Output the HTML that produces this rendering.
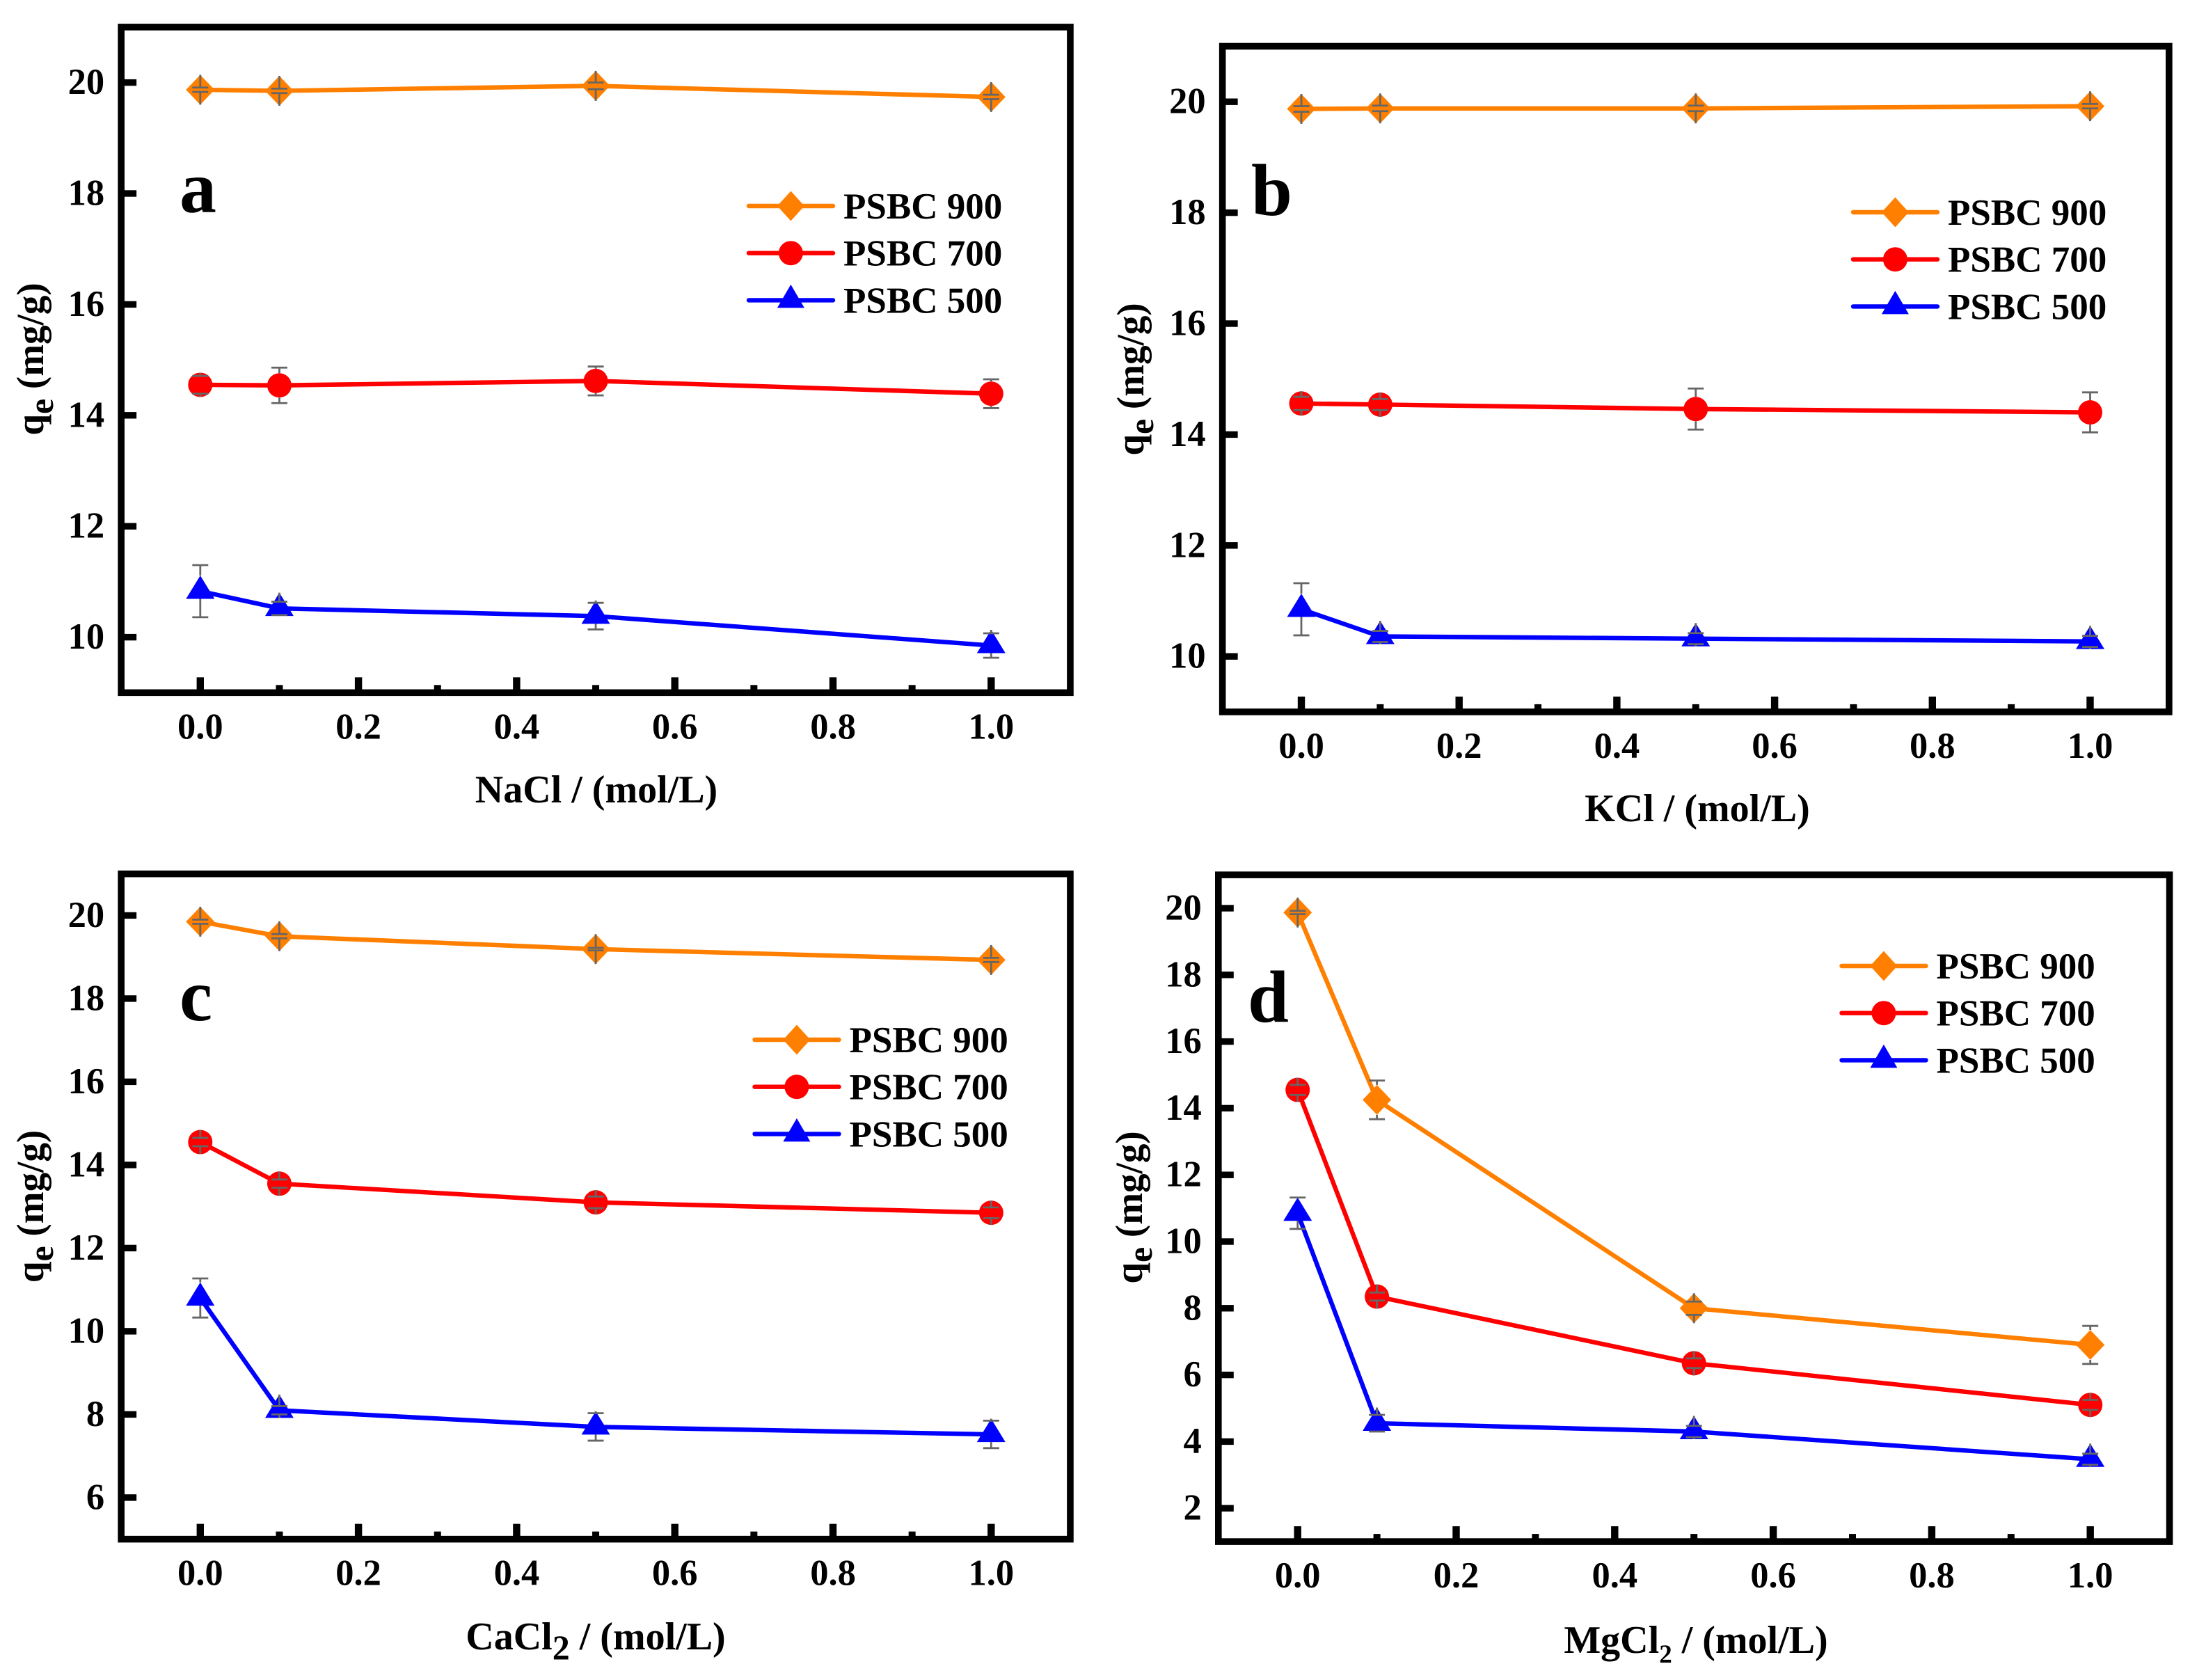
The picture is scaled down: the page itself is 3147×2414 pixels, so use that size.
<!DOCTYPE html>
<html lang="en">
<head>
<meta charset="utf-8">
<title>Adsorption capacity vs. salt concentration</title>
<style>
html,body{margin:0;padding:0;background:#fff;width:3147px;height:2414px;overflow:hidden}
svg{display:block}
text{font-family:"Liberation Serif","Times New Roman",serif;font-weight:700;fill:#000}
</style>
</head>
<body>
<svg id="figure" xmlns="http://www.w3.org/2000/svg" width="3147" height="2414" viewBox="0 0 3147 2414"></svg>
<script>
// ---- Shared data ----
const concentrations = [0, 0.1, 0.5, 1.0];
const xMajorTicks = [0, 0.2, 0.4, 0.6, 0.8, 1.0];
const xMajorLabels = ['0.0', '0.2', '0.4', '0.6', '0.8', '1.0'];
const xMinorTicks = [0.1, 0.3, 0.5, 0.7, 0.9];
const seriesNames = ['PSBC 900', 'PSBC 700', 'PSBC 500'];

// ---- Panel a: NaCl ----
const aPsbc900 = [19.87, 19.85, 19.94, 19.74];
const aPsbc700 = [14.55, 14.54, 14.62, 14.39];
const aPsbc500 = [10.83, 10.52, 10.38, 9.85];
const aErr900 = [0.04, 0.04, 0.06, 0.04];
const aErr700 = [0.16, 0.32, 0.26, 0.26];
const aErr500 = [0.47, 0.12, 0.24, 0.22];
const aYTicks = [10, 12, 14, 16, 18, 20];

// ---- Panel b: KCl ----
const bPsbc900 = [19.87, 19.88, 19.88, 19.92];
const bPsbc700 = [14.56, 14.54, 14.46, 14.40];
const bPsbc500 = [10.85, 10.36, 10.32, 10.27];
const bErr900 = [0.05, 0.05, 0.05, 0.04];
const bErr700 = [0.12, 0.1, 0.37, 0.36];
const bErr500 = [0.47, 0.1, 0.1, 0.1];
const bYTicks = [10, 12, 14, 16, 18, 20];

// ---- Panel c: CaCl2 ----
const cPsbc900 = [19.85, 19.50, 19.19, 18.93];
const cPsbc700 = [14.55, 13.55, 13.10, 12.85];
const cPsbc500 = [10.80, 8.10, 7.70, 7.52];
const cErr900 = [0.05, 0.05, 0.03, 0.05];
const cErr700 = [0.1, 0.1, 0.14, 0.13];
const cErr500 = [0.47, 0.1, 0.33, 0.33];
const cYTicks = [6, 8, 10, 12, 14, 16, 18, 20];

// ---- Panel d: MgCl2 ----
const dPsbc900 = [19.87, 14.25, 8.00, 6.90];
const dPsbc700 = [14.55, 8.35, 6.35, 5.10];
const dPsbc500 = [10.85, 4.55, 4.30, 3.47];
const dErr900 = [0.05, 0.58, 0.20, 0.57];
const dErr700 = [0.15, 0.12, 0.146, 0.15];
const dErr500 = [0.47, 0.25, 0.17, 0.167];
const dYTicks = [2, 4, 6, 8, 10, 12, 14, 16, 18, 20];

// ---- Layout (not data) ----
const colours = ['#FF8000', '#FF0000', '#0000FF'];
const markers = ['diamond', 'circle', 'triangle'];
const panels = [
  {id:'a', x0:287.8, xs:1136.5, y20:118.6, ys:79.7, ymin:9, ymax:21, yTicks:aYTicks,
   values:[aPsbc900,aPsbc700,aPsbc500], errors:[aErr900,aErr700,aErr500],
   letterX:258, letterY:305, title:'NaCl', sub:'', subSize:0, titleX:857, titleY:1153,
   yTitleX:62, yTitleY:516, legX:1073, legY:296},
  {id:'b', x0:1870, xs:1133.5, y20:146.2, ys:79.7, ymin:9, ymax:21, yTicks:bYTicks,
   values:[bPsbc900,bPsbc700,bPsbc500], errors:[bErr900,bErr700,bErr500],
   letterX:1798, letterY:309, title:'KCl', sub:'', subSize:0, titleX:2439, titleY:1180,
   yTitleX:1643, yTitleY:545, legX:2660, legY:305},
  {id:'c', x0:287.8, xs:1136.5, y20:1315.4, ys:59.75, ymin:5, ymax:21, yTicks:cYTicks,
   values:[cPsbc900,cPsbc700,cPsbc500], errors:[cErr900,cErr700,cErr500],
   letterX:258, letterY:1466, title:'CaCl', sub:'2', subSize:50, titleX:856, titleY:2370,
   yTitleX:62, yTitleY:1733.5, legX:1081.5, legY:1494},
  {id:'d', x0:1864.7, xs:1139, y20:1305, ys:47.9, ymin:1, ymax:21, yTicks:dYTicks,
   values:[dPsbc900,dPsbc700,dPsbc500], errors:[dErr900,dErr700,dErr500],
   letterX:1793, letterY:1468, title:'MgCl', sub:'2', subSize:37, titleX:2437, titleY:2375,
   yTitleX:1641, yTitleY:1735, legX:2643.5, legY:1388}
];

const NS = 'http://www.w3.org/2000/svg';
const figure = document.getElementById('figure');

function make(parent, tag, attrs, text) {
  const el = document.createElementNS(NS, tag);
  for (const k in attrs) el.setAttribute(k, attrs[k]);
  if (text !== undefined) el.textContent = text;
  parent.appendChild(el);
  return el;
}

function drawMarker(parent, kind, cx, cy, colour, hw, name) {
  let el;
  if (kind === 'diamond') {
    el = make(parent, 'polygon', {points:`${cx-hw},${cy} ${cx},${cy-21.5} ${cx+hw},${cy} ${cx},${cy+21.5}`, fill:colour});
  } else if (kind === 'circle') {
    el = make(parent, 'circle', {cx:cx, cy:cy, r:17.5, fill:colour});
  } else {
    el = make(parent, 'polygon', {points:`${cx-hw},${cy+11} ${cx},${cy-22.5} ${cx+hw},${cy+11}`, fill:colour});
  }
  
  
}

const markerTop = {diamond:21.5, circle:17.5, triangle:22.5};
const markerBottom = {diamond:21.5, circle:17.5, triangle:11};

panels.forEach(function (p) {
  const xScale = function (v) { return p.x0 + v * p.xs; };
  const yScale = function (v) { return p.y20 + (20 - v) * p.ys; };

  const g = make(figure, 'g', {});
  
  

  // y ticks
  p.yTicks.forEach(function (t) {
    const y = yScale(t);
    const tick = make(g, 'rect', {x:xScale(-0.1), y:y-4.7, width:22, height:9.4, fill:'#000'});
    
    
    const lab = make(g, 'text', {x:xScale(-0.1)-24, y:y+16.5, 'font-size':52.5, 'text-anchor':'end'}, String(t));
    
    
  });

  // x ticks
  xMajorTicks.forEach(function (t, i) {
    const x = xScale(t);
    const tick = make(g, 'rect', {x:x-5.2, y:yScale(p.ymin)-22, width:10.4, height:22, fill:'#000'});
    
    
    const lab = make(g, 'text', {x:x, y:yScale(p.ymin)+66, 'font-size':52.5, 'text-anchor':'middle'}, xMajorLabels[i]);
    
    
  });
  xMinorTicks.forEach(function (t) {
    const tick = make(g, 'rect', {x:xScale(t)-5, y:yScale(p.ymin)-11, width:10, height:11, fill:'#000'});
    
    
  });

  // frame
  const frame = make(g, 'rect', {x:xScale(-0.1), y:yScale(p.ymax), width:xScale(1.1)-xScale(-0.1), height:yScale(p.ymin)-yScale(p.ymax), fill:'none', stroke:'#000', 'stroke-width':9.6});
  
  

  // series
  p.values.forEach(function (vals, s) {
    const sg = make(g, 'g', {});
    
    
    const pts = vals.map(function (v, i) { return xScale(concentrations[i]) + ',' + yScale(v); }).join(' ');
    const line = make(sg, 'polyline', {points:pts, fill:'none', stroke:colours[s], 'stroke-width':6.4, 'stroke-linejoin':'round'});
    
    
    vals.forEach(function (v, i) {
      drawMarker(sg, markers[s], xScale(concentrations[i]), yScale(v), colours[s], 20.5, 'data-point');
    });
    vals.forEach(function (v, i) {
      const x = xScale(concentrations[i]), y = yScale(v), e = p.errors[s][i];
      const up = yScale(v + e), dn = yScale(v - e);
      const eb = make(sg, 'path', {
        d:`M${x} ${up}V${y-markerTop[markers[s]]}M${x} ${dn}V${y+markerBottom[markers[s]]}`,
        stroke:'#666', 'stroke-width':2.8, fill:'none'});
      
      
      const caps = make(sg, 'path', {
        d:`M${x-11.5} ${up}H${x+11.5}M${x-11.5} ${dn}H${x+11.5}`,
        stroke:'#666', 'stroke-width':2.8, fill:'none'});
      
      
    });
  });

  // panel letter
  const letter = make(g, 'text', {x:p.letterX, y:p.letterY, 'font-size':106}, p.id);
  
  

  // x title
  const xt = make(g, 'text', {x:p.titleX, y:p.titleY, 'font-size':56, 'text-anchor':'middle'});
  
  
  make(xt, 'tspan', {}, p.title);
  if (p.sub) {
    make(xt, 'tspan', {dy:14, 'font-size':p.subSize}, p.sub);
    make(xt, 'tspan', {dy:-14}, ' / (mol/L)');
  } else {
    make(xt, 'tspan', {}, ' / (mol/L)');
  }

  // y title
  const yt = make(g, 'text', {x:p.yTitleX, y:0, 'font-size':55, 'text-anchor':'middle',
    transform:`translate(0 ${p.yTitleY}) rotate(-90 ${p.yTitleX} 0)`});
  
  
  make(yt, 'tspan', {}, 'q');
  make(yt, 'tspan', {dy:14, 'font-size':50}, 'e');
  make(yt, 'tspan', {dy:-14}, ' (mg/g)');

  // legend
  const lg = make(g, 'g', {});
  
  
  seriesNames.forEach(function (name, s) {
    const rowY = p.legY + s * 67.7;
    const row = make(lg, 'g', {});
    
    
    make(row, 'line', {x1:p.legX+3, x2:p.legX+124, y1:rowY, y2:rowY, stroke:colours[s], 'stroke-width':6.4, 'stroke-linecap':'round'});
    drawMarker(row, markers[s], p.legX+63.4, rowY, colours[s], 19.5, 'legend-marker');
    make(row, 'text', {x:p.legX+139, y:rowY+18, 'font-size':53}, name);
  });
});
</script>
</body>
</html>
